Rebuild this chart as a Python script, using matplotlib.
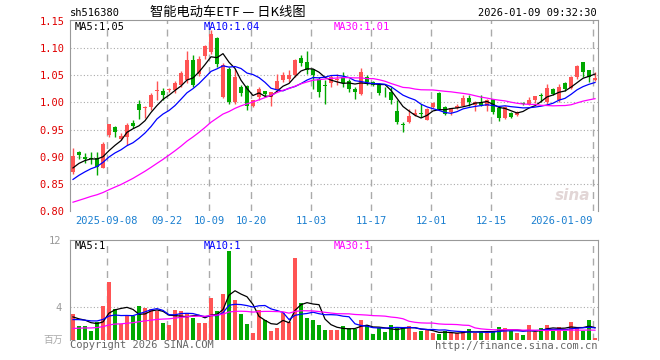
import numpy as np
import pandas as pd
import matplotlib
matplotlib.use('Agg')
import matplotlib.pyplot as plt

# Daily K-line of sh516380, 2025-08-29 .. 2026-01-09 (88 trading days)
holidays = ['2025-10-01', '2025-10-02', '2025-10-03', '2025-10-06', '2025-10-07',
            '2025-10-08', '2026-01-01', '2026-01-02']
dates = [d for d in pd.bdate_range('2025-08-29', '2026-01-09')
         if d.strftime('%Y-%m-%d') not in holidays]

opens = [0.871, 0.908, 0.900, 0.897, 0.898, 0.880, 0.940, 0.955, 0.933, 0.937,
         0.963, 0.998, 0.990, 0.991, 1.021, 1.021, 1.023, 1.023, 1.032, 1.042,
         1.078, 1.052, 1.085, 1.093, 1.118, 1.010, 1.062, 1.000, 1.028, 1.031,
         0.994, 1.010, 1.022, 1.010, 1.025, 1.041, 1.044, 1.050, 1.082, 1.075,
         1.061, 1.044, 1.032, 1.036, 1.041, 1.047, 1.039, 1.025, 1.016, 1.047,
         1.037, 1.033, 1.020, 1.020, 0.985, 0.960, 0.964, 0.976, 0.981, 0.968,
         0.991, 1.018, 0.991, 0.982, 0.990, 0.994, 1.009, 0.996, 1.001, 0.994,
         1.006, 0.990, 0.972, 0.980, 0.977, 0.999, 0.997, 1.004, 1.014, 1.000,
         1.024, 1.004, 1.036, 1.026, 1.047, 1.074, 1.059, 1.041]
highs = [0.916, 0.910, 0.907, 0.908, 0.908, 0.928, 0.961, 0.957, 0.944, 0.962,
         0.968, 1.005, 0.993, 1.018, 1.040, 1.026, 1.026, 1.039, 1.058, 1.094,
         1.087, 1.086, 1.106, 1.134, 1.121, 1.072, 1.066, 1.062, 1.032, 1.032,
         1.005, 1.028, 1.022, 1.019, 1.053, 1.057, 1.059, 1.081, 1.087, 1.094,
         1.062, 1.047, 1.041, 1.050, 1.053, 1.057, 1.044, 1.028, 1.064, 1.050,
         1.040, 1.036, 1.028, 1.028, 1.004, 0.964, 0.988, 0.988, 0.998, 0.990,
         1.000, 1.019, 0.993, 0.990, 0.997, 1.013, 1.013, 1.002, 1.013, 1.007,
         1.007, 0.993, 0.993, 0.983, 0.985, 1.000, 1.010, 1.012, 1.017, 1.034,
         1.026, 1.034, 1.037, 1.048, 1.069, 1.075, 1.060, 1.056]
lows = [0.869, 0.895, 0.888, 0.886, 0.866, 0.879, 0.937, 0.937, 0.931, 0.922,
        0.953, 0.969, 0.971, 0.987, 1.004, 1.005, 1.020, 1.017, 1.028, 1.035,
        1.028, 1.048, 1.080, 1.090, 1.066, 1.008, 0.998, 0.998, 1.012, 0.987,
        0.992, 1.004, 1.010, 0.994, 1.019, 1.038, 1.038, 1.047, 1.068, 1.053,
        1.025, 1.010, 0.998, 1.028, 1.033, 1.028, 1.019, 1.007, 1.013, 1.032,
        1.030, 1.013, 1.010, 0.998, 0.961, 0.946, 0.963, 0.975, 0.973, 0.967,
        0.989, 0.986, 0.976, 0.976, 0.988, 0.993, 0.993, 0.985, 0.993, 0.985,
        0.979, 0.966, 0.970, 0.971, 0.975, 0.995, 0.995, 0.999, 1.000, 0.998,
        1.013, 1.001, 1.022, 1.025, 1.044, 1.047, 1.038, 1.040]
closes = [0.902, 0.904, 0.896, 0.895, 0.882, 0.923, 0.960, 0.945, 0.938, 0.959,
          0.956, 0.987, 0.992, 1.014, 1.023, 1.013, 1.025, 1.036, 1.055, 1.078,
          1.032, 1.080, 1.104, 1.127, 1.070, 1.069, 1.001, 1.047, 1.018, 0.994,
          1.004, 1.025, 1.016, 1.019, 1.039, 1.051, 1.050, 1.078, 1.072, 1.059,
          1.050, 1.020, 1.030, 1.047, 1.043, 1.036, 1.024, 1.020, 1.057, 1.038,
          1.033, 1.018, 1.019, 1.004, 0.964, 0.958, 0.976, 0.980, 0.979, 0.988,
          0.999, 0.988, 0.979, 0.990, 0.994, 1.009, 1.001, 1.000, 0.995, 1.004,
          0.983, 0.972, 0.991, 0.974, 0.983, 0.997, 1.004, 1.012, 1.012, 1.026,
          1.015, 1.029, 1.024, 1.047, 1.067, 1.056, 1.047, 1.045]
volumes = [3.1, 1.74, 1.74, 1.07, 2.2, 4.1, 7.0, 3.7, 1.94, 2.85,
           2.85, 4.1, 3.9, 3.7, 3.5, 2.0, 1.8, 3.6, 3.45, 3.1,
           2.6, 2.06, 2.1, 5.1, 3.5, 5.5, 10.7, 4.75, 3.1, 1.9,
           0.83, 3.6, 2.4, 1.07, 1.5, 3.2, 2.2, 9.8, 4.5, 2.7,
           2.4, 1.8, 1.15, 1.15, 1.15, 1.74, 1.5, 1.35, 2.45, 1.86,
           0.67, 1.39, 0.91, 1.86, 1.39, 1.47, 1.74, 0.91, 1.03, 1.15,
           0.79, 0.67, 1.07, 0.79, 0.79, 1.1, 1.27, 0.87, 0.95, 0.87,
           1.07, 1.62, 1.5, 1.07, 0.79, 0.55, 1.86, 0.95, 1.5, 1.86,
           1.07, 1.62, 1.07, 2.2, 1.5, 1.07, 2.45, 0.2]

# closes / volumes of the 29 sessions before the window (only feed the moving averages)
prev_closes = [0.80, 0.79, 0.785, 0.79, 0.80, 0.805, 0.80, 0.795, 0.79, 0.785,
               0.79, 0.795, 0.80, 0.80, 0.795, 0.79, 0.795, 0.80, 0.80, 0.80,
               0.828, 0.832, 0.838, 0.842, 0.845, 0.862, 0.870, 0.880, 0.883]
prev_volumes = [0.9, 0.8, 1.1, 0.7, 0.9, 0.8, 0.6, 1.0, 0.9, 0.7,
                0.8, 0.9, 1.0, 0.8, 0.7, 0.9, 1.0, 0.8, 0.9, 0.9,
                1.8, 2.4, 1.9, 2.3, 2.25, 2.9, 2.5, 2.6, 2.75]

tick_dates = ['2025-09-08', '09-22', '10-09', '10-20', '11-03', '11-17',
              '12-01', '12-15', '2026-01-09']

RED = '#ff5454'
GREEN = '#00a800'
GRID = '#aaaaaa'
MONO = 'DejaVu Sans Mono'
W, H = 660, 360


def rect(x0, y0, x1, y1):
    return [x0 / W, 1 - y1 / H, (x1 - x0) / W, (y1 - y0) / H]


def ma(prev, vals, n):
    s = pd.Series(prev + vals).rolling(n).mean().to_numpy()
    return s[len(prev):]


def main():
    n = len(closes)
    x = np.arange(n)
    o = np.array(opens)
    c = np.array(closes)
    up = c >= o
    cols = [RED if u else GREEN for u in up]

    date_str = [d.strftime('%Y-%m-%d') for d in dates]
    tick_idx = [next(i for i, s in enumerate(date_str) if s.endswith(t)) for t in tick_dates]

    fig = plt.figure(figsize=(6.6, 3.6), dpi=100)
    fig.patch.set_facecolor('white')

    # ---- price panel
    ax = fig.add_axes(rect(70, 20, 598, 211))
    ax.set_xlim(-0.5, n - 0.5)
    ax.set_ylim(0.80, 1.152)
    ax.vlines(x, lows, highs, colors=cols, lw=1, zorder=2)
    body = np.maximum(np.abs(c - o), 0.0012)
    ax.bar(x, body, bottom=np.minimum(o, c), width=0.8, color=cols, lw=0, zorder=2)

    ma5 = ma(prev_closes, closes, 5)
    ma10 = ma(prev_closes, closes, 10)
    ma30 = ma(prev_closes, closes, 30)
    ax.plot(x, ma5, color='black', lw=0.9, zorder=3)
    ax.plot(x, ma10, color='#0000ff', lw=0.9, zorder=3)
    ax.plot(x, ma30, color='#ff00ff', lw=0.9, zorder=3)

    yt = [0.80, 0.85, 0.90, 0.95, 1.00, 1.05, 1.10, 1.15]
    ax.set_yticks(yt)
    ax.set_yticklabels([f'{v:.2f}' for v in yt], color='#e00000', family=MONO, fontsize=7.5)
    ax.set_xticks(tick_idx)
    ax.set_xticklabels([])
    ax.tick_params(length=0, pad=4)
    for v in yt[1:-1]:
        ax.axhline(v, color=GRID, lw=0.8, ls=(0, (1, 2)), zorder=1)
    for t in tick_idx:
        ax.axvline(t - 0.35, color=GRID, lw=1, ls=(0, (5, 4)), zorder=1)
    for s in ['left', 'top', 'right']:
        ax.spines[s].set_color('#999999')
    ax.spines['bottom'].set_visible(False)

    ax.text(0.008, 0.965, f'MA5:{ma5[-1]:.2f}', transform=ax.transAxes, color='black',
            family=MONO, fontsize=7.5, va='center')
    ax.text(0.254, 0.965, f'MA10:{ma10[-1]:.2f}', transform=ax.transAxes, color='#0000ff',
            family=MONO, fontsize=7.5, va='center')
    ax.text(0.5, 0.965, f'MA30:{ma30[-1]:.2f}', transform=ax.transAxes, color='#ff00ff',
            family=MONO, fontsize=7.5, va='center')
    ax.text(0.985, 0.08, 'sina', transform=ax.transAxes, color='#e2d6d6', fontsize=11,
            style='italic', weight='bold', ha='right', va='center', zorder=0)

    # date labels
    for k, (t, lab) in enumerate(zip(tick_idx, tick_dates)):
        px = 70 + (t - 0.35 + 0.5) * 528 / n
        ha = 'right' if k == len(tick_idx) - 1 else 'center'
        fig.text(px / W, 1 - 221 / H, lab, color='#1a7fd0', family=MONO, fontsize=7.5,
                 ha=ha, va='center')

    # ---- volume panel
    av = fig.add_axes(rect(70, 240, 598, 340))
    av.set_xlim(-0.5, n - 0.5)
    av.set_ylim(0, 12)
    av.bar(x, volumes, width=0.8, color=cols, lw=0, zorder=2)
    v5 = ma(prev_volumes, volumes, 5)
    v10 = ma(prev_volumes, volumes, 10)
    v30 = ma(prev_volumes, volumes, 30)
    av.plot(x, v5, color='black', lw=0.9, zorder=3)
    av.plot(x, v10, color='#0000ff', lw=0.9, zorder=3)
    av.plot(x, v30, color='#ff00ff', lw=0.9, zorder=3)
    av.set_yticks([4, 12])
    av.set_yticklabels(['4', '12'], color='#999999', family=MONO, fontsize=7.5)
    av.set_xticks([])
    av.tick_params(length=0, pad=6)
    av.axhline(4, color=GRID, lw=0.8, ls=(0, (1, 2)), zorder=1)
    for t in tick_idx:
        av.axvline(t - 0.35, color=GRID, lw=1, ls=(0, (5, 4)), zorder=1)
    for s in ['left', 'top', 'right']:
        av.spines[s].set_color('#999999')
    av.spines['bottom'].set_visible(False)
    av.text(0.008, 0.94, f'MA5:{v5[-1]:.0f}', transform=av.transAxes, color='black',
            family=MONO, fontsize=7.5, va='center')
    av.text(0.254, 0.94, f'MA10:{v10[-1]:.0f}', transform=av.transAxes, color='#0000ff',
            family=MONO, fontsize=7.5, va='center')
    av.text(0.5, 0.94, f'MA30:{v30[-1]:.0f}', transform=av.transAxes, color='#ff00ff',
            family=MONO, fontsize=7.5, va='center')

    # ---- header / footer texts
    fig.text(70 / W, 1 - 13 / H, 'sh516380', family=MONO, fontsize=7.5, va='center')
    fig.text(150 / W, 1 - 12 / H, '智能电动车ETF — 日K线图',
             family=['Noto Sans CJK SC', 'DejaVu Sans'], fontsize=9.5, va='center')
    fig.text(597 / W, 1 - 13 / H, '2026-01-09 09:32:30', family=MONO, fontsize=7.5,
             ha='right', va='center')
    fig.text(63 / W, 1 - 340 / H, '百万', family=['Noto Sans CJK SC', 'DejaVu Sans'],
             fontsize=7, color='#aaaaaa', ha='right', va='center')
    fig.text(70 / W, 1 - 345 / H, 'Copyright 2026 SINA.COM', family=MONO, fontsize=7.5,
             color='#666666', va='center')
    fig.text(597 / W, 1 - 346 / H, 'http://finance.sina.com.cn', family=MONO, fontsize=7.5,
             color='#666666', ha='right', va='center')

    fig.savefig('out.png', dpi=100, facecolor='white')


if __name__ == '__main__':
    main()
